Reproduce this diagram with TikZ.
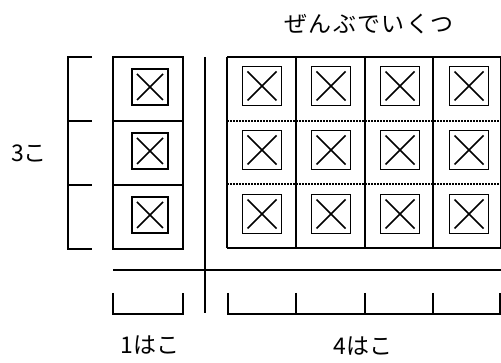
\documentclass[tikz,border=0pt]{standalone}
\usepackage{fontspec}
\newfontfamily\jp{Noto Sans CJK JP}
\newfontfamily\jpwide[LetterSpace=6]{Noto Sans CJK JP}
\begin{document}
\begin{tikzpicture}[x=1pt,y=-1pt,line width=1.7pt,
  xbox/.style={draw,line width=1.6pt,minimum width=#1,minimum height=#1,inner sep=0pt,
    path picture={\draw[line width=1.5pt]
      ([shift={(5pt,-5pt)}]path picture bounding box.north west) -- ([shift={(-5pt,5pt)}]path picture bounding box.south east)
      ([shift={(-5pt,-5pt)}]path picture bounding box.north east) -- ([shift={(5pt,5pt)}]path picture bounding box.south west);}},
  dotline/.style={line width=1.5pt,dash pattern=on 1.6pt off 1.4pt},
  lbl/.style={font=\jp\fontsize{23}{25}\selectfont,inner sep=0pt}]
\useasboundingbox (0,0) rectangle (501,363);
\clip (0,0) rectangle (501,363);
% left bracket
\coordinate (lb1) at (68,57); \coordinate (lb4) at (68,249);
\draw (92,57) -- (lb1) -- (lb4) -- (92,249);
\draw (68,121) -- (92,121);
\draw (68,185) -- (92,185);
% one box column
\draw (113,57) rectangle (183,249);
\draw (113,121) -- (183,121);
\draw (113,185) -- (183,185);
\node[xbox=36pt] (a1) at (150,87) {};
\node[xbox=36pt] (a2) at (150,151) {};
\node[xbox=36pt] (a3) at (150,215) {};
% separator
\draw (205,57) -- (205,313);
% right grid
\draw (227,57) -- (502,57);
\draw (227,248) -- (502,248);
\draw (227,57) -- (227,248);
\foreach \x in {296,365,433,501} \draw (\x,57) -- (\x,248);
\draw[dotline] (227,121) -- (501,121);
\draw[dotline] (227,184) -- (501,184);
\foreach \c/\x in {1/262,2/331,3/400,4/469}{
  \node[xbox=39pt] (r1\c) at (\x,86) {};
  \node[xbox=39pt] (r2\c) at (\x,150) {};
  \node[xbox=39pt] (r3\c) at (\x,214) {};
}
% horizontal base line
\draw (113,270) -- (502,270);
% bottom brackets
\draw (113,293) -- (113,314) -- (183,314) -- (183,293);
\draw (228,293) -- (228,314) -- (502,314);
\foreach \x in {296,365,433,500} \draw (\x,293) -- (\x,314);
% labels
\node[lbl,font=\jpwide\fontsize{23}{25}\selectfont] (t) at (369,24) {ぜんぶでいくつ};
\node[lbl] (l3) at (29,153) {3こ};
\node[lbl] (l1) at (150,345) {1はこ};
\node[lbl] (l4) at (363,346) {4はこ};
\end{tikzpicture}
\end{document}
